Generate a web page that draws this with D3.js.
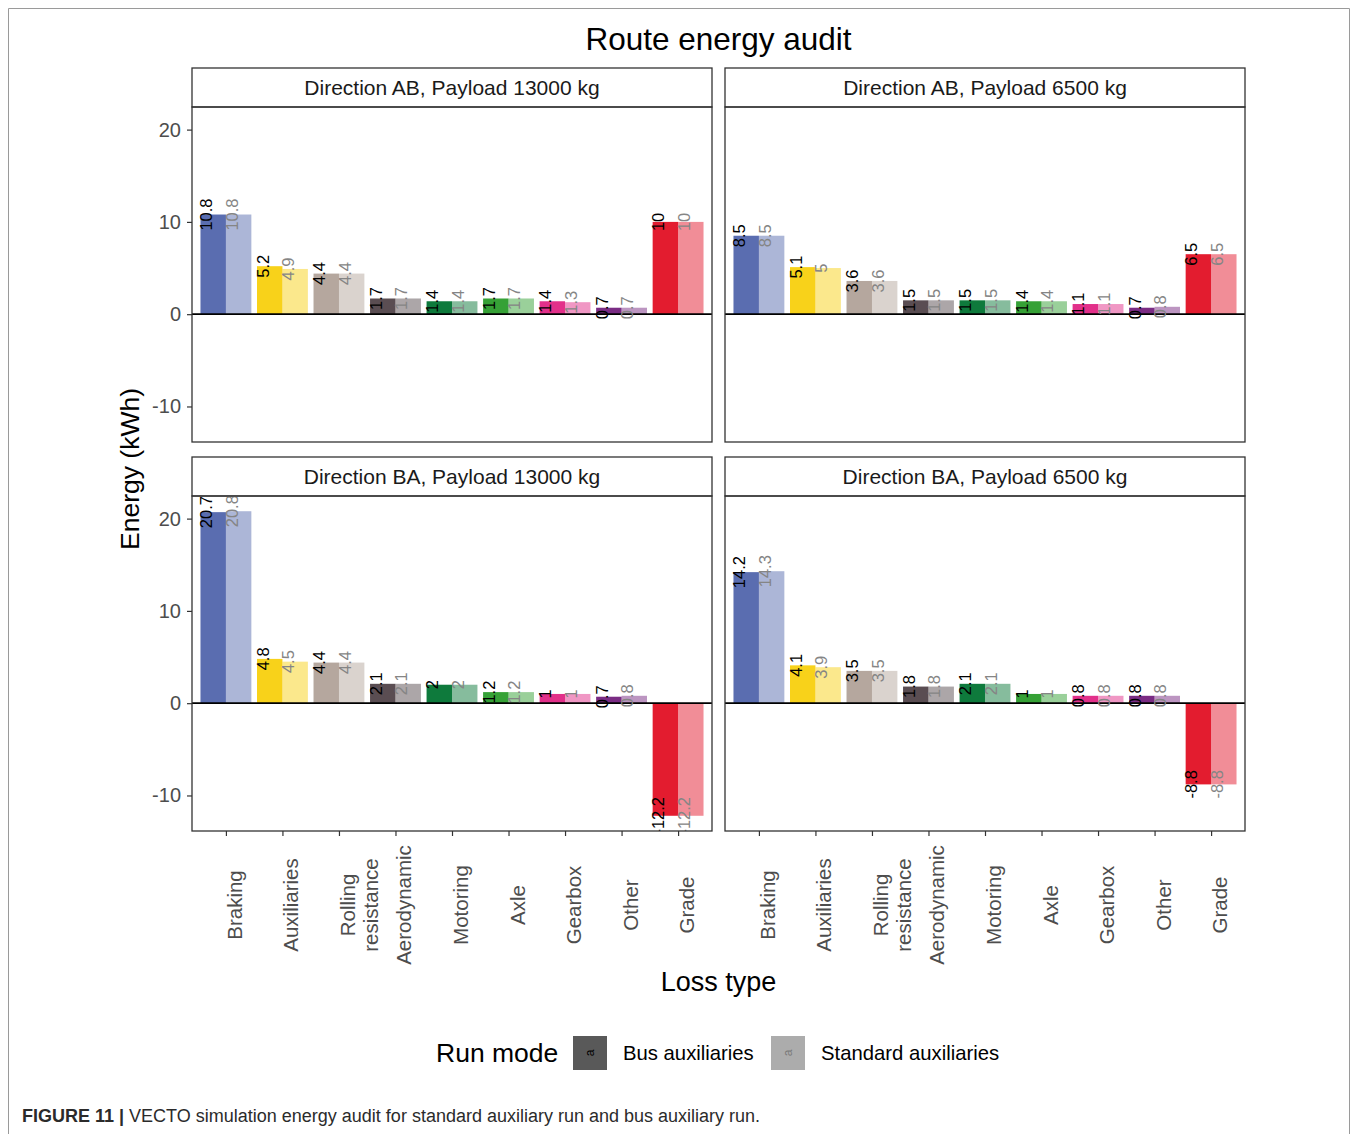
<!DOCTYPE html>
<html>
<head>
<meta charset="utf-8">
<script src="https://cdn.jsdelivr.net/npm/d3@7"></script>
<style>
  html, body { margin: 0; padding: 0; background: #ffffff; }
  svg { display: block; font-family: "Liberation Sans", Arial, sans-serif; }
</style>
</head>
<body>
<svg id="chart" width="1358" height="1134"></svg>
<script>
// Loss categories (x axis), in plotting order
const categories = ["Braking", "Auxiliaries", "Rolling resistance", "Aerodynamic",
  "Motoring", "Axle", "Gearbox", "Other", "Grade"];
const categoryLines = [["Braking"], ["Auxiliaries"], ["Rolling", "resistance"], ["Aerodynamic"],
  ["Motoring"], ["Axle"], ["Gearbox"], ["Other"], ["Grade"]];
const categoryColors = ["#5a6db0", "#f8d21a", "#b5a79e", "#5a4d52",
  "#0e7a3c", "#36a136", "#e2308a", "#7a2c84", "#e31c2f"];

const runModes = ["Bus auxiliaries", "Standard auxiliaries"];

// Facets
const panelTitles = ["Direction AB, Payload 13000 kg", "Direction AB, Payload 6500 kg",
  "Direction BA, Payload 13000 kg", "Direction BA, Payload 6500 kg"];

// Energy per loss type (kWh), one array per facet and run mode
const ab13000Bus = [10.8, 5.2, 4.4, 1.7, 1.4, 1.7, 1.4, 0.7, 10];
const ab13000Std = [10.8, 4.9, 4.4, 1.7, 1.4, 1.7, 1.3, 0.7, 10];
const ab6500Bus  = [8.5, 5.1, 3.6, 1.5, 1.5, 1.4, 1.1, 0.7, 6.5];
const ab6500Std  = [8.5, 5, 3.6, 1.5, 1.5, 1.4, 1.1, 0.8, 6.5];
const ba13000Bus = [20.7, 4.8, 4.4, 2.1, 2, 1.2, 1, 0.7, -12.2];
const ba13000Std = [20.8, 4.5, 4.4, 2.1, 2, 1.2, 1, 0.8, -12.2];
const ba6500Bus  = [14.2, 4.1, 3.5, 1.8, 2.1, 1, 0.8, 0.8, -8.8];
const ba6500Std  = [14.3, 3.9, 3.5, 1.8, 2.1, 1, 0.8, 0.8, -8.8];

const yTicks = [-10, 0, 10, 20];

const panelData = [
  [ab13000Bus, ab13000Std],
  [ab6500Bus, ab6500Std],
  [ba13000Bus, ba13000Std],
  [ba6500Bus, ba6500Std]
];

// Plain hyphen-minus number text
const fmt = v => String(v);

const svg = d3.select("#chart");

// Outer figure frame
svg.append("path")
  .attr("d", "M8.5,1134 V8.5 H1349.5 V1134")
  .attr("fill", "none").attr("stroke", "#9a9a9a").attr("stroke-width", 1);

// Layout
const colX = [192, 725];
const panelW = 520;
const stripTop = [68, 457];
const stripH = 39;
const plotH = 335;

// Shared y scale with 5% expansion around the data range
const allVals = panelData.flat(2);
const yMin = d3.min(allVals), yMax = d3.max(allVals);
const pad = (yMax - yMin) * 0.05;

const xPoint = d3.scalePoint().domain(categories).range([0, panelW]).padding(0.6);
const step = xPoint.step();
const dodge = d3.scaleBand().domain(runModes).range([-0.45 * step, 0.45 * step]);

// Title
svg.append("text")
  .attr("x", 718.5).attr("y", 50)
  .attr("text-anchor", "middle")
  .attr("font-size", 31.5).attr("fill", "#000")
  .text("Route energy audit");

panelTitles.forEach((title, p) => {
  const col = p % 2, row = Math.floor(p / 2);
  const px = colX[col];
  const sTop = stripTop[row];
  const pTop = sTop + stripH;
  const y = d3.scaleLinear().domain([yMin - pad, yMax + pad]).range([pTop + plotH, pTop]);

  const g = svg.append("g");

  // Strip
  g.append("rect")
    .attr("x", px).attr("y", sTop).attr("width", panelW).attr("height", stripH)
    .attr("fill", "#ffffff").attr("stroke", "#333333").attr("stroke-width", 1.3);
  g.append("text")
    .attr("x", px + panelW / 2).attr("y", sTop + stripH / 2 + 7.5)
    .attr("text-anchor", "middle").attr("font-size", 21).attr("fill", "#1a1a1a")
    .text(title);

  // Clip for marks
  const clipId = "clip" + p;
  svg.append("clipPath").attr("id", clipId)
    .append("rect").attr("x", px).attr("y", pTop).attr("width", panelW).attr("height", plotH);

  const marks = g.append("g").attr("clip-path", `url(#${clipId})`);

  const [busVals, stdVals] = panelData[p];
  const rows = [];
  categories.forEach((c, i) => {
    rows.push({ cat: c, idx: i, mode: runModes[0], v: busVals[i] });
    rows.push({ cat: c, idx: i, mode: runModes[1], v: stdVals[i] });
  });

  marks.selectAll("rect.bar").data(rows).enter().append("rect")
    .attr("class", "bar")
    .attr("x", d => px + xPoint(d.cat) + dodge(d.mode))
    .attr("width", dodge.bandwidth())
    .attr("y", d => y(Math.max(0, d.v)))
    .attr("height", d => Math.abs(y(d.v) - y(0)))
    .attr("fill", d => categoryColors[d.idx])
    .attr("fill-opacity", d => d.mode === runModes[0] ? 1 : 0.5);

  // Zero reference line
  marks.append("line")
    .attr("x1", px).attr("x2", px + panelW)
    .attr("y1", y(0)).attr("y2", y(0))
    .attr("stroke", "#000").attr("stroke-width", 1.8);

  // Value labels: rotated, centred on the bar end, baseline on the bar centre
  marks.selectAll("text.val").data(rows).enter().append("text")
    .attr("class", "val")
    .attr("transform", d => {
      const cx = px + xPoint(d.cat) + dodge(d.mode) + dodge.bandwidth() / 2;
      return `translate(${cx - 1},${y(d.v)}) rotate(-90)`;
    })
    .attr("text-anchor", "middle")
    .attr("font-size", 16.5)
    .attr("fill", d => d.mode === runModes[0] ? "#000" : "#858585")
    .text(d => fmt(d.v));

  // Panel border
  g.append("rect")
    .attr("x", px).attr("y", pTop).attr("width", panelW).attr("height", plotH)
    .attr("fill", "none").attr("stroke", "#333333").attr("stroke-width", 1.3);

  // Y axis on left column
  if (col === 0) {
    const ya = g.append("g").attr("transform", `translate(${px},0)`)
      .call(d3.axisLeft(y).tickValues(yTicks).tickSize(5).tickPadding(6).tickFormat(fmt));
    ya.select(".domain").remove();
    ya.selectAll(".tick line").attr("stroke", "#333").attr("stroke-width", 1.2);
    ya.selectAll(".tick text").attr("font-size", 20).attr("fill", "#4d4d4d")
      .attr("font-family", "Liberation Sans, Arial, sans-serif");
  }

  // X axis on bottom row
  if (row === 1) {
    const base = pTop + plotH;
    const xa = g.append("g").attr("transform", `translate(${px},${base})`)
      .call(d3.axisBottom(xPoint).tickSize(5).tickFormat(""));
    xa.select(".domain").remove();
    xa.selectAll(".tick line").attr("stroke", "#333").attr("stroke-width", 1.2);

    categories.forEach((c, i) => {
      const lines = categoryLines[i];
      const t = g.append("text")
        .attr("transform", `translate(${px + xPoint(c)},905) rotate(-90)`)
        .attr("text-anchor", "middle")
        .attr("font-size", 20.5).attr("fill", "#4d4d4d");
      lines.forEach((ln, k) => {
        t.append("tspan").attr("x", 0).attr("y", 16 + k * 23).text(ln);
      });
    });
  }
});

// Axis titles
svg.append("text")
  .attr("transform", "translate(139,469) rotate(-90)")
  .attr("text-anchor", "middle").attr("font-size", 26.5).attr("fill", "#000")
  .text("Energy (kWh)");

svg.append("text")
  .attr("x", 718.5).attr("y", 991)
  .attr("text-anchor", "middle").attr("font-size", 27).attr("fill", "#000")
  .text("Loss type");

// Legend
const legend = svg.append("g");
legend.append("text").attr("x", 436).attr("y", 1062)
  .attr("font-size", 26.5).attr("fill", "#000").text("Run mode");
const legendKeys = [
  { mode: runModes[0], x: 573, fill: "#595959", glyph: "#000" },
  { mode: runModes[1], x: 771, fill: "#acacac", glyph: "#7a7a7a" }
];
legendKeys.forEach(k => {
  legend.append("rect").attr("x", k.x).attr("y", 1036).attr("width", 34).attr("height", 34)
    .attr("fill", k.fill);
  legend.append("text")
    .attr("transform", `translate(${k.x + 17},1053) rotate(-90)`)
    .attr("text-anchor", "middle").attr("dy", "0.35em")
    .attr("font-size", 12).attr("fill", k.glyph).text("a");
  legend.append("text").attr("x", k.x + 50).attr("y", 1060)
    .attr("font-size", 20.3).attr("fill", "#000").text(k.mode);
});

// Caption
const cap = svg.append("text").attr("x", 22).attr("y", 1122)
  .attr("font-size", 18).attr("fill", "#2b2b2b");
cap.append("tspan").attr("font-weight", "bold").text("FIGURE 11 | ");
cap.append("tspan").text("VECTO simulation energy audit for standard auxiliary run and bus auxiliary run.");
</script>
</body>
</html>
